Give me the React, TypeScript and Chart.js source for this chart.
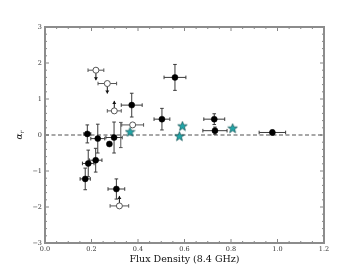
import React, { useEffect, useRef } from "react";
import { Chart, registerables } from "chart.js";

Chart.register(...registerables);

// Detections (filled circles)
const detX = [0.182, 0.227, 0.297, 0.277, 0.186, 0.218, 0.173, 0.307, 0.373, 0.503, 0.559, 0.728, 0.731, 0.978];
const detY = [0.03, -0.10, -0.07, -0.25, -0.79, -0.70, -1.22, -1.50, 0.83, 0.44, 1.60, 0.44, 0.12, 0.07];
const detXerr = [0.015, 0.03, 0.035, 0, 0.025, 0.027, 0.022, 0.036, 0.045, 0.034, 0.047, 0.045, 0.052, 0.057];
const detYerr = [0.25, 0.40, 0.43, 0, 0.37, 0.33, 0.30, 0.28, 0.33, 0.30, 0.36, 0.15, 0.10, 0.07];

// Error bar with hidden marker
const extraX = [0.326];
const extraY = [0.0];
const extraXerr = [0.0];
const extraYerr = [0.35];

// Limits (open circles)
const limX = [0.219, 0.268, 0.298, 0.377, 0.320];
const limY = [1.80, 1.43, 0.67, 0.28, -1.97];
const limXerr = [0.034, 0.04, 0.03, 0.047, 0.04];
const limDir = [-1, -1, 1, 0, 1];

// Stars
const starX = [0.366, 0.578, 0.591, 0.807];
const starY = [0.09, -0.03, 0.25, 0.19];

const xTicks = [0, 0.2, 0.4, 0.6, 0.8, 1.0, 1.2];
const yTicks = [-3, -2, -1, 0, 1, 2, 3];

function makeStar(): HTMLCanvasElement {
  const c = document.createElement("canvas");
  const s = 11;
  c.width = s;
  c.height = s;
  const g = c.getContext("2d")!;
  const cx = s / 2, cy = s / 2 + 0.4, R = 5, r = 2.1;
  g.beginPath();
  for (let i = 0; i < 10; i++) {
    const rad = i % 2 === 0 ? R : r;
    const a = -Math.PI / 2 + (i * Math.PI) / 5;
    const px = cx + rad * Math.cos(a);
    const py = cy + rad * Math.sin(a);
    if (i === 0) g.moveTo(px, py);
    else g.lineTo(px, py);
  }
  g.closePath();
  g.fillStyle = "#1fa7a9";
  g.fill();
  g.lineWidth = 0.7;
  g.strokeStyle = "#124f50";
  g.stroke();
  return c;
}

const framePlugin = {
  id: "framePlugin",
  beforeDatasetsDraw(chart: any) {
    const { ctx, chartArea: a, scales } = chart;
    const xs = scales.x, ys = scales.y;
    ctx.save();
    // dashed zero line
    ctx.strokeStyle = "#8a8a8a";
    ctx.lineWidth = 1.4;
    ctx.setLineDash([4, 2.5]);
    const y0 = ys.getPixelForValue(0);
    ctx.beginPath();
    ctx.moveTo(a.left, y0);
    ctx.lineTo(a.right, y0);
    ctx.stroke();
    ctx.setLineDash([]);

    const bar = (x0: number, y0v: number, xe: number, ye: number, color: string) => {
      const px = xs.getPixelForValue(x0);
      const py = ys.getPixelForValue(y0v);
      ctx.strokeStyle = color;
      ctx.lineWidth = 1;
      const cap = 1.8;
      if (xe > 0) {
        const l = xs.getPixelForValue(x0 - xe), r = xs.getPixelForValue(x0 + xe);
        ctx.beginPath();
        ctx.moveTo(l, py); ctx.lineTo(r, py);
        ctx.moveTo(l, py - cap); ctx.lineTo(l, py + cap);
        ctx.moveTo(r, py - cap); ctx.lineTo(r, py + cap);
        ctx.stroke();
      }
      if (ye > 0) {
        const t = ys.getPixelForValue(y0v + ye), b = ys.getPixelForValue(y0v - ye);
        ctx.beginPath();
        ctx.moveTo(px, t); ctx.lineTo(px, b);
        ctx.moveTo(px - cap, t); ctx.lineTo(px + cap, t);
        ctx.moveTo(px - cap, b); ctx.lineTo(px + cap, b);
        ctx.stroke();
      }
    };
    detX.forEach((v, i) => bar(v, detY[i], detXerr[i], detYerr[i], "#3a3a3a"));
    extraX.forEach((v, i) => bar(v, extraY[i], extraXerr[i], extraYerr[i], "#555"));
    limX.forEach((v, i) => bar(v, limY[i], limXerr[i], 0, "#555"));

    // arrows for limits
    limX.forEach((v, i) => {
      const d = limDir[i];
      if (!d) return;
      const px = xs.getPixelForValue(v);
      const py = ys.getPixelForValue(limY[i]);
      const len = 10;
      const tipY = py - d * len;
      ctx.strokeStyle = "#111";
      ctx.fillStyle = "#111";
      ctx.lineWidth = 1;
      ctx.beginPath();
      ctx.moveTo(px, py);
      ctx.lineTo(px, tipY);
      ctx.stroke();
      ctx.beginPath();
      ctx.moveTo(px, tipY);
      ctx.lineTo(px - 2, tipY + d * 3);
      ctx.lineTo(px + 2, tipY + d * 3);
      ctx.closePath();
      ctx.fill();
    });
    ctx.restore();
  },
  afterDraw(chart: any) {
    const { ctx, chartArea: a, scales } = chart;
    const xs = scales.x, ys = scales.y;
    ctx.save();
    ctx.strokeStyle = "#666";
    ctx.lineWidth = 0.8;
    ctx.beginPath();
    // x ticks (major 0.2, minor 0.05)
    for (let k = 0; k <= 24; k++) {
      const v = k * 0.05;
      const px = xs.getPixelForValue(v);
      const len = k % 4 === 0 ? 4 : 2;
      ctx.moveTo(px, a.bottom); ctx.lineTo(px, a.bottom - len);
      ctx.moveTo(px, a.top); ctx.lineTo(px, a.top + len);
    }
    // y ticks (major 1, minor 0.2)
    for (let k = 0; k <= 30; k++) {
      const v = -3 + k * 0.2;
      const py = ys.getPixelForValue(v);
      const len = k % 5 === 0 ? 4 : 2;
      ctx.moveTo(a.left, py); ctx.lineTo(a.left + len, py);
      ctx.moveTo(a.right, py); ctx.lineTo(a.right - len, py);
    }
    ctx.stroke();
    // frame
    ctx.strokeStyle = "#8c8c8c";
    ctx.lineWidth = 2;
    ctx.strokeRect(a.left, a.top, a.right - a.left, a.bottom - a.top);

    // y label alpha_r
    ctx.fillStyle = "#222";
    ctx.translate(20, (a.top + a.bottom) / 2);
    ctx.rotate(-Math.PI / 2);
    ctx.textBaseline = "middle";
    ctx.textAlign = "left";
    ctx.font = "italic 9px 'DejaVu Serif'";
    const w = ctx.measureText("α").width;
    ctx.fillText("α", -w / 2 - 1.5, 0);
    ctx.font = "italic 6px 'DejaVu Serif'";
    ctx.fillText("r", w / 2 - 1.5, 2.5);
    ctx.restore();
  },
};

export default function App() {
  const ref = useRef<HTMLCanvasElement>(null);
  useEffect(() => {
    document.body.style.margin = "0";
    const star = makeStar();
    const chart = new Chart(ref.current!, {
      type: "scatter",
      data: {
        datasets: [
          {
            label: "limits",
            data: limX.map((v, i) => ({ x: v, y: limY[i] })),
            pointRadius: 3,
            pointBackgroundColor: "#ffffff",
            pointBorderColor: "#555",
            pointBorderWidth: 1,
          },
          {
            label: "detections",
            data: detX.map((v, i) => ({ x: v, y: detY[i] })),
            pointRadius: 3,
            pointBackgroundColor: "#000",
            pointBorderColor: "#000",
            pointBorderWidth: 0.5,
          },
          {
            label: "stars",
            data: starX.map((v, i) => ({ x: v, y: starY[i] })),
            pointStyle: star as any,
            pointRadius: 5,
          },
        ],
      },
      options: {
        animation: false,
        responsive: false,
        maintainAspectRatio: false,
        events: [],
        layout: { padding: { left: 0, right: 36, top: 27, bottom: 0 } },
        plugins: { legend: { display: false }, tooltip: { enabled: false } },
        scales: {
          x: {
            type: "linear",
            min: 0,
            max: 1.2,
            afterBuildTicks: (s: any) => { s.ticks = xTicks.map((v) => ({ value: v })); },
            afterFit: (s: any) => { s.height = 27; },
            grid: { display: false, drawTicks: false },
            border: { display: false },
            ticks: {
              padding: 2,
              color: "#333",
              font: { family: "'DejaVu Serif'", size: 6.5 },
              callback: (v: any) => Number(v).toFixed(1),
            },
            title: {
              display: true,
              text: "Flux Density (8.4 GHz)",
              color: "#111",
              font: { family: "'DejaVu Serif'", size: 9.5 },
              padding: { top: 0, bottom: 5 },
            },
          },
          y: {
            type: "linear",
            min: -3,
            max: 3,
            afterBuildTicks: (s: any) => { s.ticks = yTicks.map((v) => ({ value: v })); },
            afterFit: (s: any) => { s.width = 45; },
            grid: { display: false, drawTicks: false },
            border: { display: false },
            ticks: {
              padding: 3,
              color: "#333",
              font: { family: "'DejaVu Serif'", size: 6.5 },
              callback: (v: any) => (Number(v) < 0 ? "\u2212" + Math.abs(Number(v)) : String(v)),
            },
          },
        },
      },
      plugins: [framePlugin],
    });
    return () => chart.destroy();
  }, []);
  return (
    <div style={{ position: "absolute", left: 0, top: 0, width: 360, height: 270, background: "#fff" }}>
      <canvas ref={ref} width={360} height={270} style={{ width: 360, height: 270 }} />
    </div>
  );
}
